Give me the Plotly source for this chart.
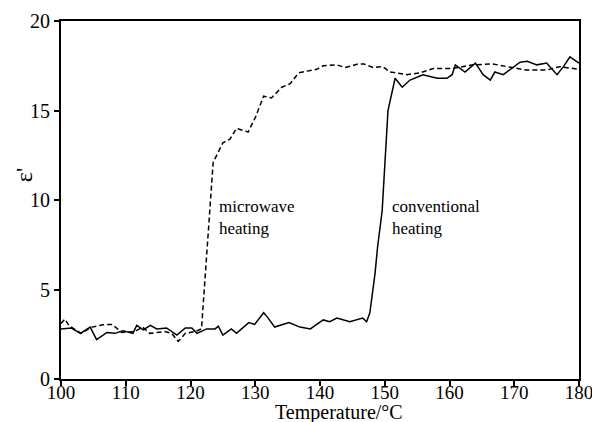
import plotly.graph_objects as go

# Microwave heating (dashed)
microwave_T = [100, 100.6, 101.2, 103.1, 104.8, 106.8, 107.9, 109.4, 111.4, 112.6,
               113.7, 116.0, 117.1, 118.1, 119.2, 120.7, 121.7, 123.5, 125.0, 126.1,
               127.1, 128.9, 130.0, 131.3, 132.5, 134.1, 135.4, 136.7, 138.0, 139.5,
               140.5, 142.6, 143.9, 145.9, 146.8, 148.2, 149.7, 150.8, 153.4, 155.4,
               157.5, 160.5, 163.6, 166.7, 168.9, 171.9, 175.0, 177.0, 180.0]
microwave_eps = [3.1, 3.35, 3.0, 2.55, 2.9, 3.05, 3.05, 2.6, 2.65, 2.9,
                 2.55, 2.65, 2.55, 2.1, 2.55, 2.65, 2.8, 12.1, 13.2, 13.4,
                 14.0, 13.8, 14.6, 15.8, 15.7, 16.3, 16.5, 17.1, 17.2, 17.3,
                 17.5, 17.55, 17.4, 17.6, 17.6, 17.4, 17.45, 17.15, 17.0, 17.1,
                 17.35, 17.35, 17.55, 17.6, 17.45, 17.26, 17.26, 17.45, 17.3]

# Conventional heating (solid)
conventional_T = [100, 101.6, 103.0, 104.5, 105.5, 107.1, 108.3, 109.6, 111.1, 111.7,
                  112.7, 113.8, 114.8, 116.3, 117.9, 119.2, 120.2, 121.0, 122.5, 123.8,
                  124.3, 125.0, 126.3, 127.1, 129.0, 129.9, 131.3, 131.8, 133.0, 135.2,
                  136.9, 138.5, 140.5, 141.5, 142.6, 144.6, 146.6, 147.2, 147.7, 148.5,
                  148.9, 149.6, 150.5, 151.6, 152.7, 153.9, 155.9, 158.1, 159.6, 160.4,
                  160.9, 162.4, 164.0, 165.2, 166.3, 167.0, 168.3, 169.7, 170.9, 172.0,
                  173.5, 175.0, 175.5, 176.6, 177.6, 178.6, 180.0]
conventional_eps = [2.8, 2.85, 2.55, 2.9, 2.2, 2.6, 2.55, 2.7, 2.55, 3.0,
                    2.75, 3.0, 2.8, 2.85, 2.45, 2.85, 2.85, 2.55, 2.8, 2.8,
                    2.95, 2.45, 2.8, 2.55, 3.15, 3.05, 3.7, 3.5, 2.9, 3.15,
                    2.9, 2.8, 3.3, 3.2, 3.4, 3.2, 3.4, 3.2, 3.7, 5.9,
                    7.4, 9.4, 15.0, 16.8, 16.3, 16.7, 17.0, 16.8, 16.8, 17.0,
                    17.55, 17.15, 17.65, 17.0, 16.7, 17.15, 17.0, 17.35, 17.7, 17.75,
                    17.55, 17.65, 17.45, 17.0, 17.45, 18.0, 17.65]

x_ticks = [100, 110, 120, 130, 140, 150, 160, 170, 180]
y_ticks = [0, 5, 10, 15, 20]

FONT = "Liberation Serif"

fig = go.Figure()
fig.add_trace(go.Scatter(x=microwave_T, y=microwave_eps, mode="lines",
                         line=dict(color="black", width=1.5, dash="5px,3px"),
                         showlegend=False))
fig.add_trace(go.Scatter(x=conventional_T, y=conventional_eps, mode="lines",
                         line=dict(color="black", width=1.5),
                         showlegend=False))

fig.update_layout(
    width=592, height=422,
    margin=dict(l=61, r=13, t=21, b=43, autoexpand=False),
    plot_bgcolor="white", paper_bgcolor="white",
    font=dict(family=FONT, color="black", size=19),
    xaxis=dict(range=[100, 180], tickvals=x_ticks, ticks="outside", ticklen=5,
               tickwidth=1.5, tickcolor="black", showline=True, linecolor="black",
               linewidth=2, mirror=True, showgrid=False, zeroline=False,
               ticklabeloverflow="allow", automargin=False, ticklabelstandoff=-10,
               tickfont=dict(size=19, family=FONT)),
    yaxis=dict(range=[0, 20], tickvals=y_ticks, ticks="outside", ticklen=5,
               tickwidth=1.5, tickcolor="black", showline=True, linecolor="black",
               linewidth=2, mirror=True, showgrid=False, zeroline=False,
               automargin=False,
               tickfont=dict(size=20, family=FONT)),
    annotations=[
        dict(text="microwave<br>heating", x=124.1, y=9.05, xref="x", yref="y",
             xanchor="left", yanchor="middle", align="left", showarrow=False,
             font=dict(size=17, family=FONT)),
        dict(text="conventional<br>heating", x=150.8, y=9.05, xref="x", yref="y",
             xanchor="left", yanchor="middle", align="left", showarrow=False,
             font=dict(size=17, family=FONT)),
        dict(text="Temperature/°C", x=0.537, y=-0.094, xref="paper", yref="paper",
             xanchor="center", yanchor="middle", showarrow=False,
             font=dict(size=20, family=FONT)),
        dict(text="ε'", x=-0.071, y=0.57, xref="paper", yref="paper",
             xanchor="center", yanchor="middle", textangle=-90, showarrow=False,
             font=dict(size=24, family=FONT)),
    ],
)

fig.write_html("out.html")
